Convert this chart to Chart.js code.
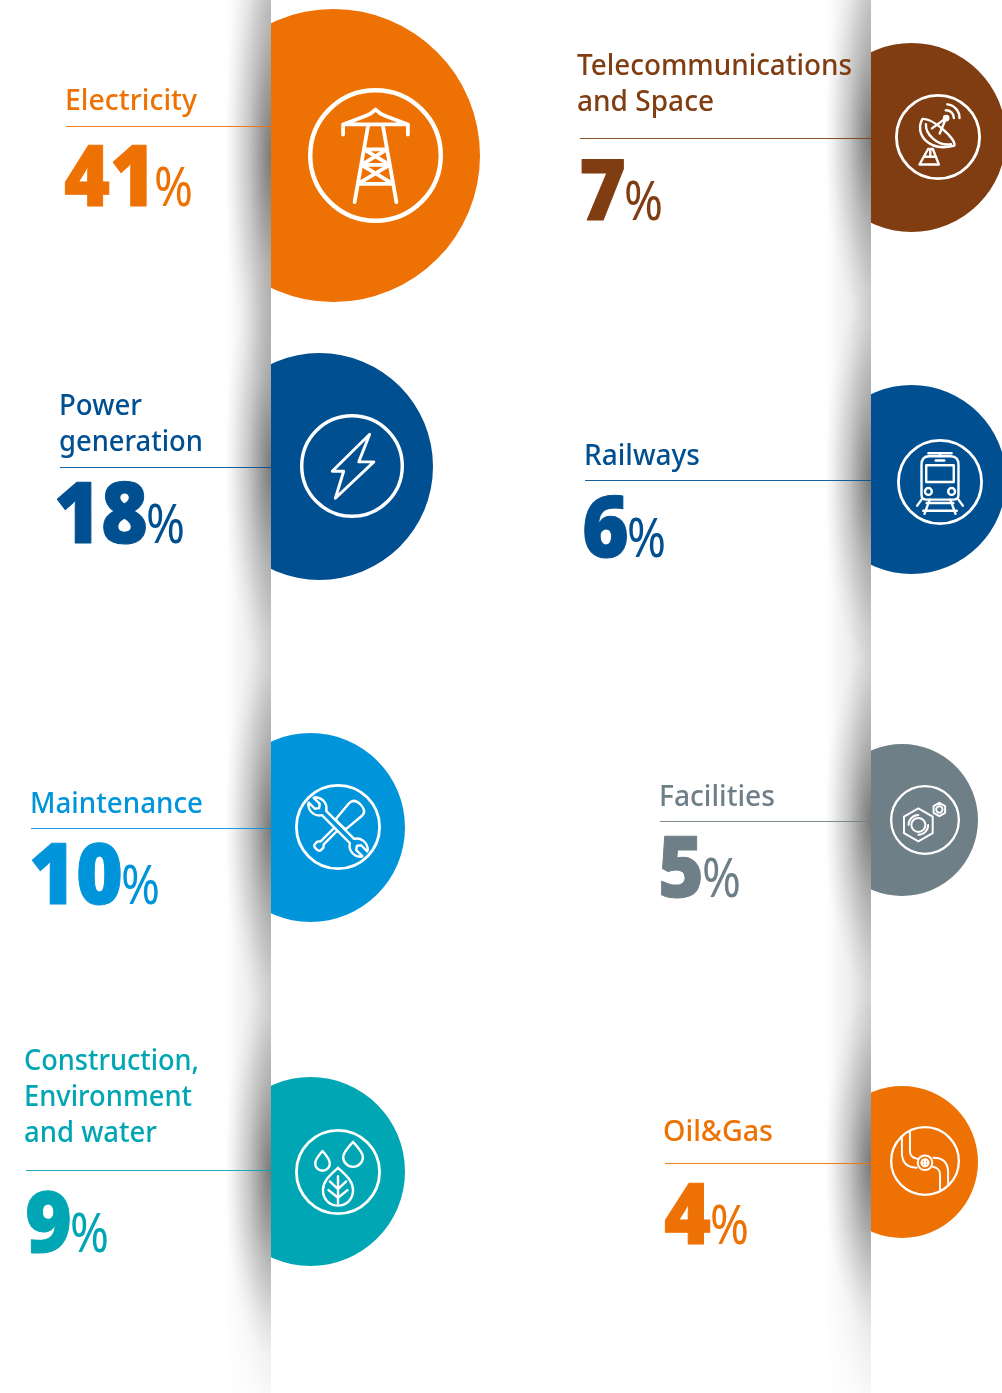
<!DOCTYPE html>
<html>
<head>
<meta charset="utf-8">
<title>Sectors</title>
<script src="https://cdn.jsdelivr.net/npm/chart.js@4"></script>
<style>
  html, body { margin: 0; padding: 0; background: #fff; }
  #page { position: relative; width: 1002px; height: 1393px; overflow: hidden; background: #fff; }
  .shade, .clip, .bubble, .strip { position: absolute; }
  .strip { top: 0; width: 46px; height: 1393px;
    background: linear-gradient(to left, rgba(0,0,0,.18), rgba(0,0,0,.07) 45%, transparent);
    -webkit-mask-image: linear-gradient(to bottom, #000 88%, rgba(0,0,0,.15)); mask-image: linear-gradient(to bottom, #000 88%, rgba(0,0,0,.15)); }
  .clip { top: 0; height: 1393px; overflow: hidden; }
  .rule { position: absolute; height: 1px; }
  #overlay { position: absolute; left: 0; top: 0; pointer-events: none; }
  #overlay text { font-family: "Noto Sans", sans-serif; }
  .label { font-size: 29px; font-weight: 500; }
  .big { font-family: "Open Sans", sans-serif !important; font-size: 85px; font-weight: 800; stroke-width: 1px; stroke-linejoin: round; }
  .pct { font-size: 55px; font-weight: 400; }
</style>
</head>
<body>
<div id="page"><div class="strip" style="left:225px"></div><div class="strip" style="left:825px"></div><svg id="overlay" width="1002" height="1393"></svg></div>
<script>
// データ
const categories = ['Electricity', 'Power generation', 'Maintenance', 'Construction, Environment and water',
  'Telecommunications and Space', 'Railways', 'Facilities', 'Oil&Gas'];
const labelLines = [['Electricity'], ['Power', 'generation'], ['Maintenance'], ['Construction,', 'Environment', 'and water'],
  ['Telecommunications', 'and Space'], ['Railways'], ['Facilities'], ['Oil&Gas']];
const shares = [41, 18, 10, 9, 7, 6, 5, 4];

// 色
const colors = ['#ee7103', '#004f90', '#0095da', '#00a6b4', '#803d11', '#004f90', '#6f7f87', '#ee7103'];

// レイアウト (円の大きさ・位置、文字の位置)
const layout = [
  { spine: 271, r: 146.5, cx: 333.5, cy: 155.5, ring: [375.5, 155.5, 67.5], textX: 65, base: [110], lineW: [132], ruleY: 126, ruleX: 66, numX: 64, numW: 92, numY: 206, pctX: 154 },
  { spine: 271, r: 113.5, cx: 319.5, cy: 466.5, ring: [352, 466, 52], textX: 59, base: [415, 451], lineW: [83, 144], ruleY: 467, ruleX: 60, numX: 54, numW: 94, numY: 543, pctX: 146 },
  { spine: 271, r: 94.5, cx: 310.5, cy: 827.5, ring: [338, 827, 43], textX: 30, base: [813], lineW: [173], ruleY: 828, ruleX: 31, numX: 29, numW: 94, numY: 904, pctX: 121 },
  { spine: 271, r: 94.5, cx: 310.5, cy: 1171.5, ring: [338, 1172, 43], textX: 24, base: [1070, 1106, 1142], lineW: [175, 168, 133], ruleY: 1170, ruleX: 26, numX: 25, numW: 47, numY: 1252, pctX: 70 },
  { spine: 871, r: 94.5, cx: 911, cy: 137.5, ring: [938, 137, 43], textX: 577, base: [75, 111], lineW: [275, 137], ruleY: 138, ruleX: 580, numX: 579, numW: 47, numY: 220, pctX: 624 },
  { spine: 871, r: 94.5, cx: 911, cy: 479.5, ring: [940, 482, 43], textX: 584, base: [465], lineW: [116], ruleY: 480, ruleX: 585, numX: 582, numW: 47, numY: 557, pctX: 627 },
  { spine: 871, r: 76, cx: 902, cy: 820, ring: [925, 820, 35], textX: 659, base: [806], lineW: [116], ruleY: 821, ruleX: 660, numX: 658, numW: 46, numY: 897, pctX: 702 },
  { spine: 871, r: 76, cx: 902, cy: 1162, ring: [925, 1161, 35], textX: 663, base: [1141], lineW: [110], ruleY: 1163, ruleX: 665, numX: 664, numW: 47, numY: 1244, pctX: 710 }
];

// アイコン (リング半径 100 の座標)
const icons = [
  c => `<path d="M-48 -31V-46H48V-31M-48 -46L-14 -59Q-6 -62 0 -68Q6 -62 14 -59L48 -46M-11 -44L-31 69M11 -44L31 69M-17 -9H17M-21 14H21M-26 42H26M-17 -9L21 14M17 -9L-21 14M-21 14L26 42M21 14L-26 42"/>`,
  c => `<path d="M34 -61L13 -8H42L-32 62L-16 10H-38Z"/>`,
  c => `<g transform="rotate(225)"><path d="M-5 8V-52L-10 -58V-66Q-10 -72 0 -72Q10 -72 10 -66V-58L5 -52V8"/><path d="M-17 14Q-17 8 -10 8H10Q17 8 17 14L21 58Q21 74 0 74Q-21 74 -21 58Z"/></g>
        <g transform="rotate(-45)"><path fill="${c}" d="M-7 -46C-20 -54 -24 -72 -12 -86L-8 -88V-68L0 -62L8 -68V-88L12 -86C24 -72 20 -54 7 -46V46C20 54 24 72 12 86L8 88V68L0 62L-8 68V88L-12 86C-24 72 -20 54 -7 46Z"/></g>`,
  c => `<path d="M-36 -49C-36 -49 -53 -30 -53 -20A17 17 0 0 0 -19 -20C-19 -30 -36 -49 -36 -49Z"/><path d="M35 -70C35 -70 12 -45 12 -35A23 23 0 0 0 58 -35C58 -45 35 -70 35 -70Z"/><path d="M0 -10C-12 3 -35 18 -35 42C-35 65 -18 78 0 78C18 78 35 65 35 42C35 18 12 3 0 -10ZM0 10V72M-19 22L0 40L19 22M-22 42L0 60L22 42"/>`,
  c => `<path d="M-36 -42C-56 -8 -22 36 38 20C42 4 -12 -44 -36 -42Z"/><path d="M-28 -30C-30 -8 -2 22 30 17"/><path d="M-14 -20L19 -44M4 -8L19 -44M18 -62A18 18 0 0 1 37 -44M22 -76A32 32 0 0 1 50 -44"/><circle cx="19" cy="-44" r="5"/><path d="M-23 28H-12L2 64H-43ZM-31 46H-5M-18 28V46"/>`,
  c => `<path d="M-43 -40Q-43 -60 -25 -60H25Q43 -60 43 -40V30Q43 41 30 41H-30Q-43 41 -43 30Z"/><path d="M-32 -39H32V0H-32ZM-27 -67H27M0 -67V-60M-10 -50H10M-31 49H31M-39 67H39M-43 41L-53 55M43 41L53 55M-24 41L-36 74M24 41L36 74"/><circle cx="-27" cy="22" r="8"/><circle cx="27" cy="22" r="8"/>`,
  c => `<path d="M-19 -33L22 -9.500V37.500L-19 61L-60 37.500V-9.500Z"/><circle cx="-19" cy="14" r="20"/><path d="M-47 14A28 28 0 0 1 -19 -14M9 14A28 28 0 0 1 -19 42"/><path d="M41 -49L57.500 -39.500V-20.500L41 -11L24.500 -20.500V-39.500Z"/><circle cx="41" cy="-30" r="9"/>`,
  c => `<circle cy="5" r="21"/><circle cy="5" r="10"/><path d="M-10 5H10M0 -5V15"/><path d="M-66 -66V-24Q-66 19 -24 19M-43 -84V-28Q-43 -10 -21 -6"/><path d="M66 70V34Q66 -9 24 -9M43 86V38Q43 20 21 16"/>`
];

const page = document.getElementById('page');
const overlay = document.getElementById('overlay');
let svg = '';

categories.forEach((name, i) => {
  const p = layout[i];

  // 影
  const shade = document.createElement('div');
  shade.className = 'shade';
  const h = p.r + 90;
  shade.style.cssText = `left:${p.spine - 46}px;top:${p.cy - h}px;width:46px;height:${h * 2}px;` +
    `background:radial-gradient(ellipse 46px ${h}px at 100% 50%, rgba(0,0,0,.42), rgba(0,0,0,.16) 50%, rgba(0,0,0,.04) 82%, transparent 100%);`;
  page.insertBefore(shade, overlay);

  // 円
  const clip = document.createElement('div');
  clip.className = 'clip';
  clip.style.left = p.spine + 'px';
  clip.style.width = (1002 - p.spine) + 'px';
  const bubble = document.createElement('div');
  bubble.className = 'bubble';
  bubble.style.cssText = `left:${p.cx - p.r - p.spine}px;top:${p.cy - p.r}px;width:${p.r * 2}px;height:${p.r * 2}px;`;
  const canvas = document.createElement('canvas');
  canvas.width = p.r * 2;
  canvas.height = p.r * 2;
  bubble.appendChild(canvas);
  clip.appendChild(bubble);
  page.insertBefore(clip, overlay);

  new Chart(canvas.getContext('2d'), {
    type: 'pie',
    data: {
      labels: [name],
      datasets: [{ data: [shares[i]], backgroundColor: colors[i], borderWidth: 0 }]
    },
    options: {
      responsive: false,
      animation: false,
      layout: { padding: 0 },
      plugins: { legend: { display: false }, tooltip: { enabled: false } }
    }
  });

  // 線
  const rule = document.createElement('div');
  rule.className = 'rule';
  rule.style.cssText = `left:${p.ruleX}px;top:${p.ruleY}px;width:${p.spine - p.ruleX}px;background:${colors[i]};opacity:.9;`;
  page.insertBefore(rule, overlay);

  // 文字
  labelLines[i].forEach((line, j) => {
    svg += `<text class="label" x="${p.textX}" y="${p.base[j]}" fill="${colors[i]}" textLength="${p.lineW[j]}" lengthAdjust="spacingAndGlyphs">${line.replace('&', '&amp;')}</text>`;
  });
  svg += `<text class="big" x="${p.numX}" y="${p.numY}" fill="${colors[i]}" stroke="${colors[i]}" textLength="${p.numW}" lengthAdjust="spacingAndGlyphs">${shares[i]}</text>`;
  svg += `<text class="pct" x="${p.pctX}" y="${p.numY}" fill="${colors[i]}" textLength="39" lengthAdjust="spacingAndGlyphs">%</text>`;

  // アイコン
  const [rx, ry, rr] = p.ring;
  const k = rr / 100;
  const ringW = rr * 0.066;
  const lineW = rr * 0.056;
  svg += `<g transform="translate(${rx} ${ry}) scale(${k})" fill="none" stroke="#fff" stroke-linejoin="round" stroke-linecap="round" stroke-width="${lineW / k}">` +
    `<circle r="${100 - ringW / 2 / k}" stroke-width="${ringW / k}"/>` + icons[i](colors[i]) + `</g>`;
});

overlay.innerHTML = svg;
</script>
</body>
</html>
